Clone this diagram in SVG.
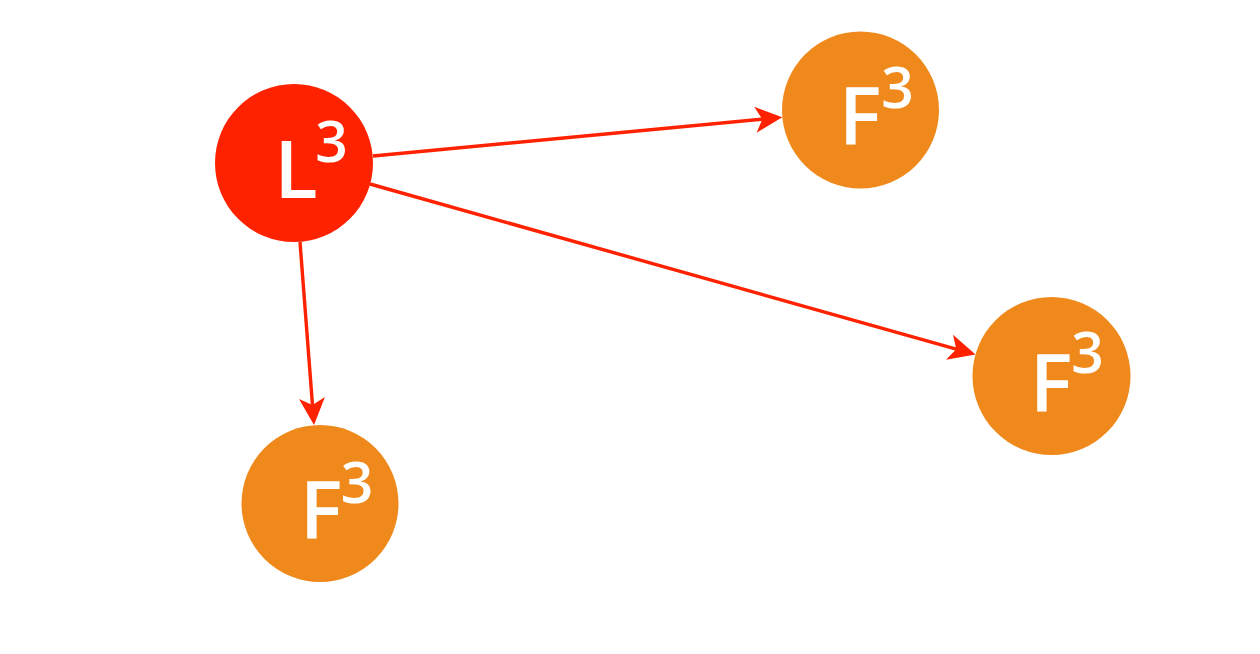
<svg xmlns="http://www.w3.org/2000/svg" width="1260" height="654" viewBox="0 0 1260 654">
<defs>
<style>
.edge{stroke:#ff2200;stroke-width:3.4;fill:none;stroke-linecap:butt}
.lead{fill:#ff2200}
.fol{fill:#f0891c}
.lbl{font-family:"Open Sans","Liberation Sans",sans-serif;font-weight:600;font-size:80px;fill:#ffffff;text-anchor:middle}
.sup{font-size:57px}
</style>
<marker id="arr" markerUnits="userSpaceOnUse" viewBox="0 0 34 30" markerWidth="34" markerHeight="30" refX="22" refY="15" orient="auto" overflow="visible">
<path d="M30 15 L3 2 L10 15 L3 28 Z" fill="#ff2200"/>
</marker>
</defs>
<rect width="1260" height="654" fill="#ffffff"/>
<g id="connectors">
<line class="edge" x1="373" y1="156" x2="774.3" y2="118" marker-end="url(#arr)"/>
<line class="edge" x1="370" y1="184" x2="967.8" y2="352.4" marker-end="url(#arr)"/>
<line class="edge" x1="300" y1="242" x2="313.4" y2="417" marker-end="url(#arr)"/>
</g>
<g id="node-L3">
<circle class="lead" cx="294" cy="163" r="79"/>
<text class="lbl" x="296" y="198">L<tspan class="sup" x="331.5" y="162">3</tspan></text>
</g>
<g id="node-F3-top">
<circle class="fol" cx="860.5" cy="110" r="78.5"/>
<text class="lbl" x="860" y="145">F<tspan class="sup" x="897.5" y="108">3</tspan></text>
</g>
<g id="node-F3-right">
<circle class="fol" cx="1051.5" cy="376" r="79"/>
<text class="lbl" x="1051" y="412">F<tspan class="sup" x="1087.5" y="373">3</tspan></text>
</g>
<g id="node-F3-bottom">
<circle class="fol" cx="320" cy="503.5" r="78.5"/>
<text class="lbl" x="321" y="539">F<tspan class="sup" x="357" y="503">3</tspan></text>
</g>
</svg>
